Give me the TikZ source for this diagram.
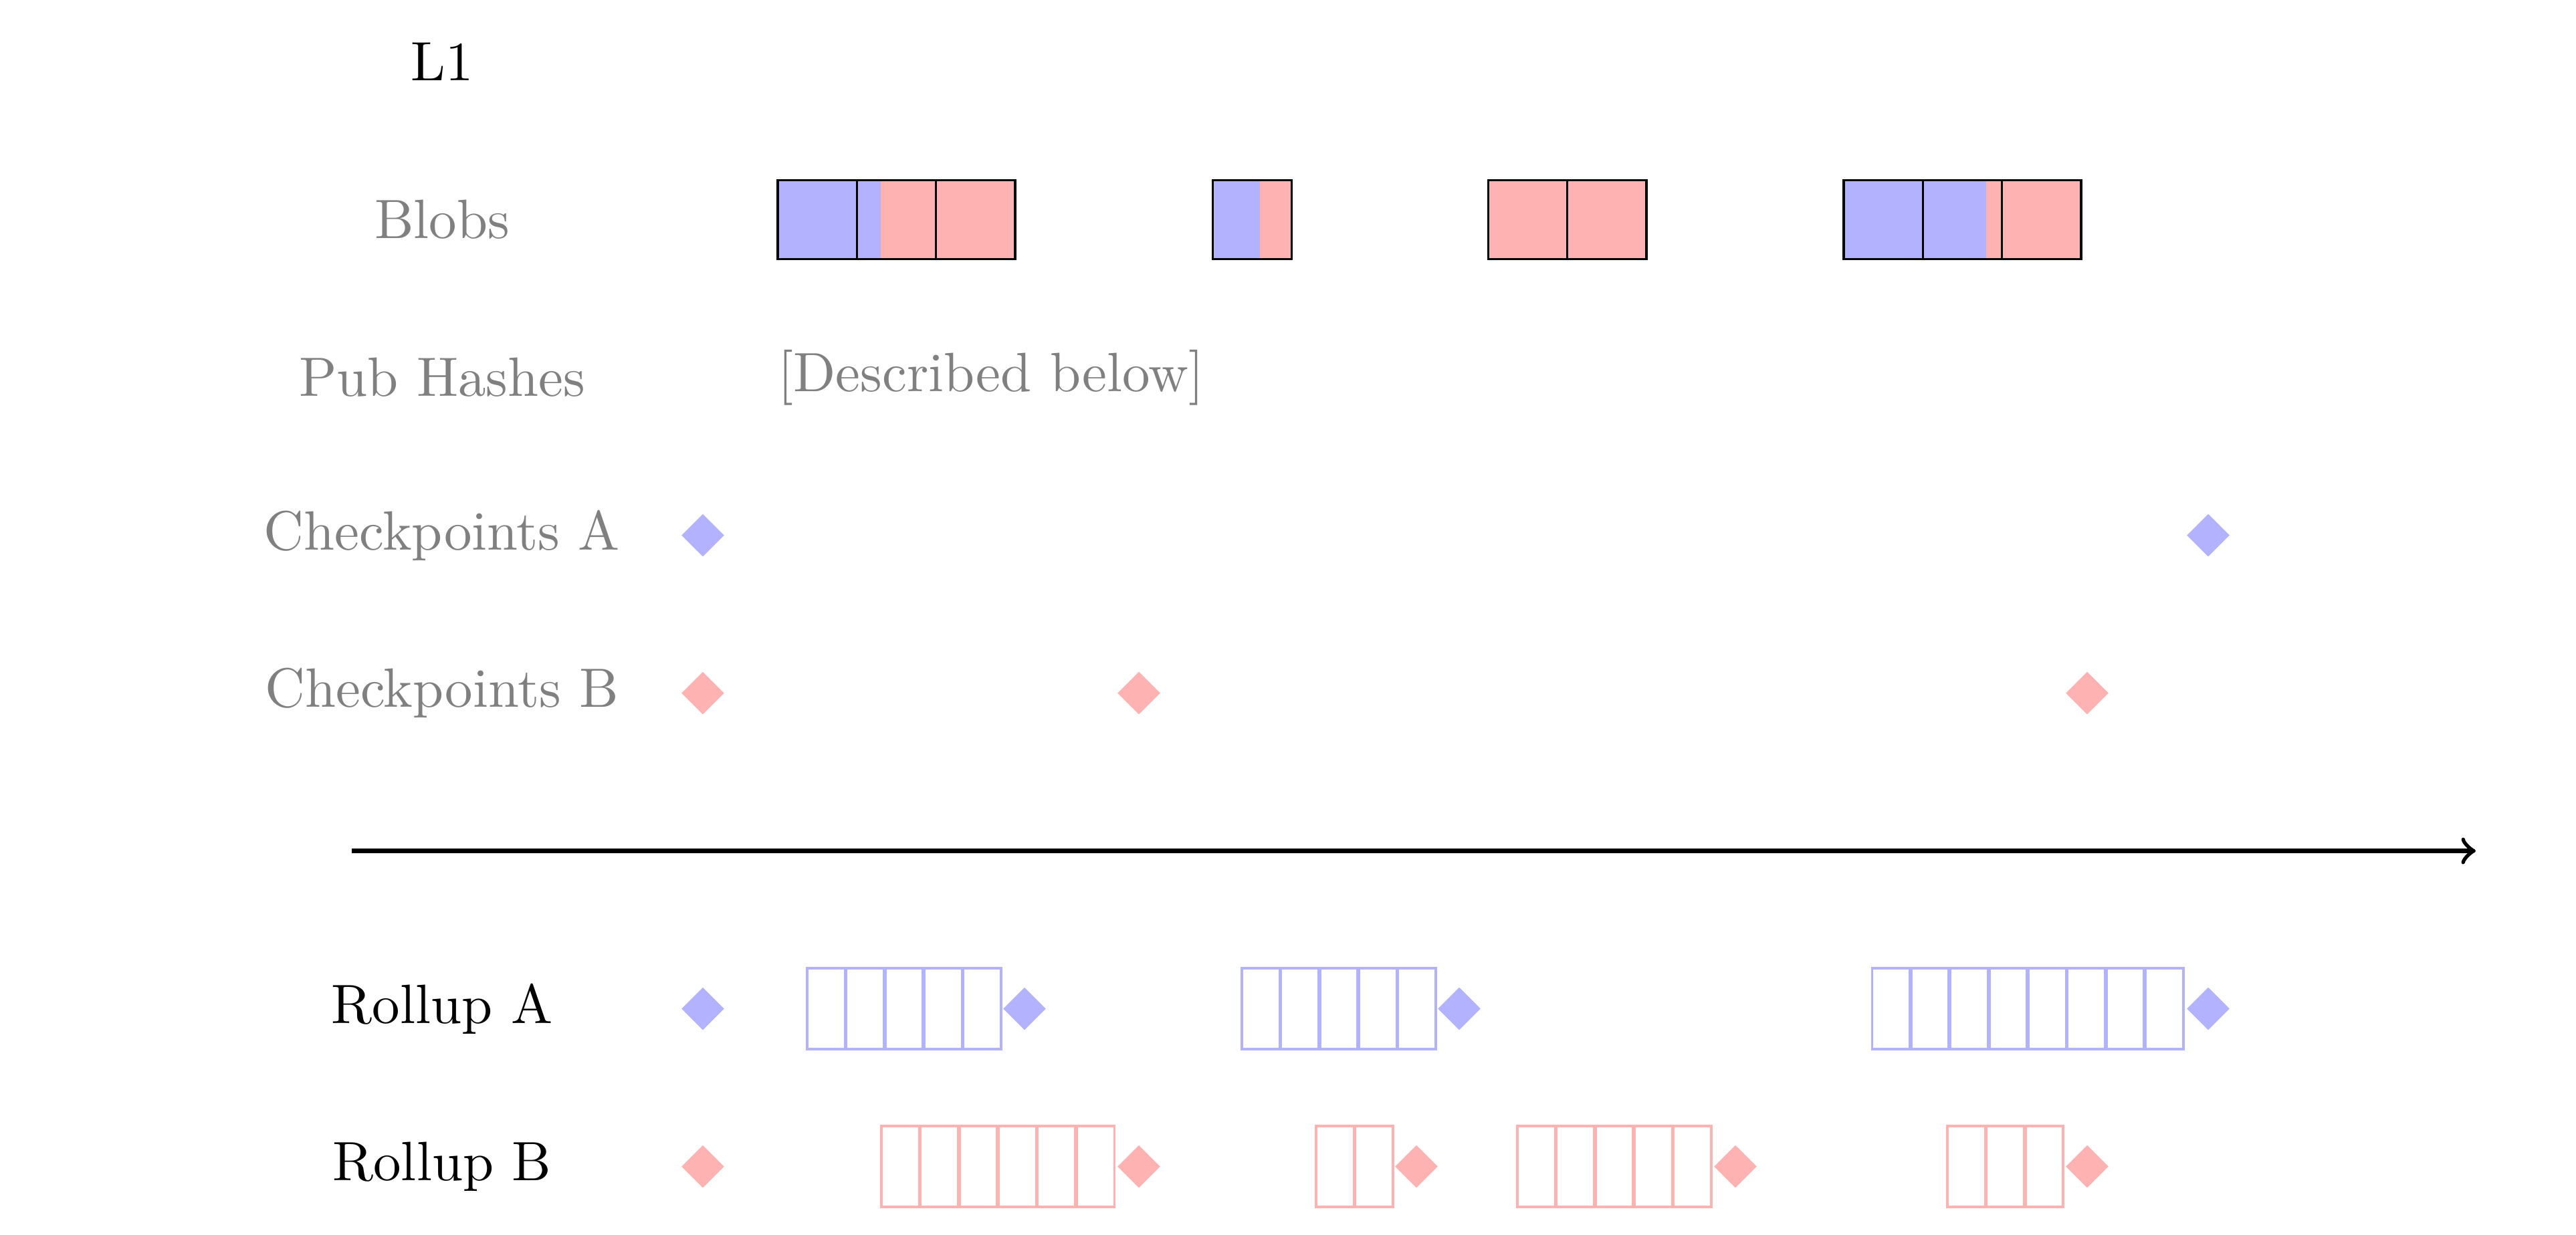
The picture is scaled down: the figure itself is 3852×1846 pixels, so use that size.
\documentclass[tikz,border=0pt]{standalone}
\usepackage{tikz}
\usetikzlibrary{shapes.geometric}
\begin{document}
\begin{tikzpicture}[x=0.0042373cm,y=-0.0042373cm,
  lab/.style={text=black,inner sep=0pt},
  glab/.style={text=gray,inner sep=0pt},
  blobline/.style={draw=black,line width=0.4pt},
  cellA/.style={draw=blue!30,fill=white,line width=0.45pt},
  cellB/.style={draw=red!30,fill=white,line width=0.45pt},
  dmd/.style={diamond,aspect=1,minimum size=0.2754cm,inner sep=0pt,draw=none},
  dmdA/.style={dmd,fill=blue!30},
  dmdB/.style={dmd,fill=red!30},
  timeline/.style={thick,->}]
\useasboundingbox (0,0) rectangle (3852,1846);

% row labels
\node[lab]  (lL1)  at (661,92.5)   {L1};
\node[glab] (lBl)  at (661,328.5)  {Blobs};
\node[glab] (lPH)  at (661,564.5)  {Pub Hashes};
\node[glab] (lCA)  at (661,800.5)  {Checkpoints A};
\node[glab] (lCB)  at (661,1036.5) {Checkpoints B};
\node[lab]  (lRA)  at (661,1508.5) {Rollup A};
\node[lab]  (lRB)  at (661,1744.5) {Rollup B};

\node[glab] (desc) at (1482,564.5) {[Described below]};

% blobs: left, number of cells, end of blue part
\def\bw{118.3}
\foreach \l/\n/\s in {1163/3/1317, 1813.5/1/1884, 2757/3/2970}{
  \fill[blue!30] (\l,269.3) rectangle (\s,387.7);
  \fill[red!30] (\s,269.3) rectangle ({\l+\n*\bw},387.7);
}
\fill[red!30] (2225.5,269.3) rectangle ({2225.5+2*\bw},387.7);
\foreach \l/\n in {1163/3, 1813.5/1, 2225.5/2, 2757/3}{
  \foreach \k in {1,...,\n}{
    \draw[blobline] ({\l+(\k-1)*\bw},269.3) rectangle ({\l+\k*\bw},387.7);
  }
}

% checkpoints
\node[dmdA] (ca1) at (1051,800.5) {};
\node[dmdA] (ca2) at (3302,800.5) {};
\node[dmdB] (cb1) at (1051,1036.5) {};
\node[dmdB] (cb2) at (1703,1036.5) {};
\node[dmdB] (cb3) at (3121,1036.5) {};

% time arrow
\coordinate (t0) at (526,1272.5);
\coordinate (t1) at (3702,1272.5);
\draw[timeline] (t0) -- (t1);

% rollup A
\def\cw{58.4}
\foreach \l/\n in {1206/5, 1856/5, 2798.5/8}{
  \foreach \k in {1,...,\n}{
    \draw[cellA] ({\l+(\k-1)*\cw+1},1448) rectangle ({\l+\k*\cw-1},1569);
  }
}
\node[dmdA] (ra0) at (1051,1508.5) {};
\node[dmdA] (ra1) at (1532,1508.5) {};
\node[dmdA] (ra2) at (2182,1508.5) {};
\node[dmdA] (ra3) at (3302,1508.5) {};

% rollup B
\foreach \l/\n in {1317/6, 1967/2, 2268/5, 2911/3}{
  \foreach \k in {1,...,\n}{
    \draw[cellB] ({\l+(\k-1)*\cw+1},1684) rectangle ({\l+\k*\cw-1},1805);
  }
}
\node[dmdB] (rb0) at (1051,1744.5) {};
\node[dmdB] (rb1) at (1703,1744.5) {};
\node[dmdB] (rb2) at (2118,1744.5) {};
\node[dmdB] (rb3) at (2595,1744.5) {};
\node[dmdB] (rb4) at (3121,1744.5) {};
\end{tikzpicture}
\end{document}
